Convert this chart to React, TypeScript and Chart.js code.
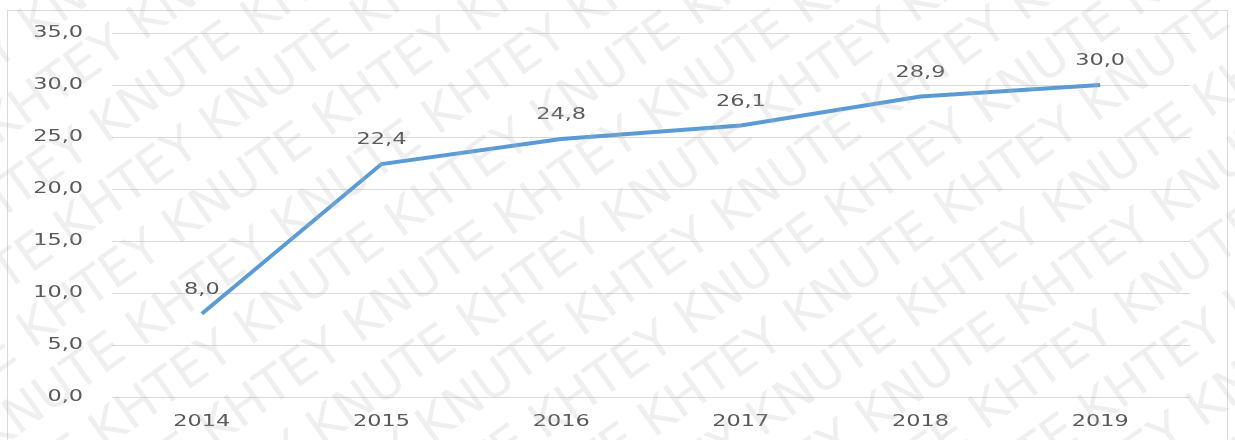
import React, { useEffect, useRef } from "react";
import { Chart, registerables } from "chart.js";

Chart.register(...registerables);

const categories = ["2014", "2015", "2016", "2017", "2018", "2019"];
const values = [8.0, 22.4, 24.8, 26.1, 28.9, 30.0];
const yTicks = [0, 5, 10, 15, 20, 25, 30, 35];
const watermarkWords = ["KNUTE", "KHTEY"];

const fmt = (v: number) => v.toFixed(1).replace(".", ",");
const FONT = "'DejaVu Sans', Verdana, sans-serif";
const TEXT = "#595959";
const SIZE = 16;
const STRETCH = 1.4;

const framePlugin = {
  id: "frame",
  beforeDraw(chart: any) {
    const { ctx, width, height } = chart;
    if (!ctx.__patched) {
      const orig = ctx.fillText;
      ctx.fillText = function (text: string, x: number, y: number, maxW?: number) {
        if (this.__stretch) {
          this.save();
          this.translate(x, y);
          this.scale(STRETCH, 1);
          if (maxW !== undefined) orig.call(this, text, 0, 0, maxW / STRETCH);
          else orig.call(this, text, 0, 0);
          this.restore();
        } else if (maxW !== undefined) orig.call(this, text, x, y, maxW);
        else orig.call(this, text, x, y);
      };
      ctx.__patched = true;
    }
    ctx.__stretch = true;
    ctx.save();
    ctx.fillStyle = "#ffffff";
    ctx.fillRect(0, 0, width, height);
    ctx.strokeStyle = "#d9d9d9";
    ctx.lineWidth = 1;
    ctx.strokeRect(7.5, 10.5, width - 15, height + 10);
    ctx.restore();
  },
  afterDraw(chart: any) {
    const { ctx, width, height } = chart;
    ctx.__stretch = false;
    ctx.save();
    ctx.font = `50px ${FONT}`;
    ctx.fillStyle = "rgba(180,180,180,0.22)";
    ctx.textBaseline = "middle";
    ctx.translate(width / 2, height / 2);
    ctx.rotate(-0.62);
    const line = (watermarkWords.join(" ") + " ").repeat(6);
    for (let r = -12; r <= 12; r++) {
      const shift = r % 2 === 0 ? 0 : 90;
      ctx.fillText(line, -1100 + shift, r * 62);
    }
    ctx.restore();
  },
};

const labelPlugin = {
  id: "pointLabels",
  afterDatasetsDraw(chart: any) {
    const { ctx } = chart;
    const meta = chart.getDatasetMeta(0);
    ctx.save();
    ctx.font = `${SIZE}px ${FONT}`;
    ctx.fillStyle = TEXT;
    ctx.textAlign = "center";
    ctx.textBaseline = "middle";
    meta.data.forEach((pt: any, i: number) => {
      ctx.fillText(fmt(values[i]), pt.x, pt.y - 24);
    });
    ctx.restore();
  },
};

export default function App() {
  const ref = useRef<HTMLCanvasElement | null>(null);
  useEffect(() => {
    document.body.style.margin = "0";
    if (!ref.current) return;
    const chart = new Chart(ref.current, {
      type: "line",
      data: {
        labels: categories,
        datasets: [
          {
            data: values,
            borderColor: "#5B9BD5",
            borderWidth: 4,
            pointRadius: 0,
            tension: 0,
            fill: false,
          },
        ],
      },
      options: {
        animation: false,
        responsive: false,
        layout: { padding: { top: 33, right: 45, left: 0, bottom: 0 } },
        plugins: { legend: { display: false }, tooltip: { enabled: false } },
        scales: {
          x: {
            offset: true,
            grid: { display: false, drawTicks: false },
            border: { display: false },
            ticks: { color: TEXT, font: { family: FONT, size: SIZE }, padding: 15 },
            afterFit(scale: any) {
              scale.height = 43;
            },
          },
          y: {
            min: 0,
            max: 35,
            afterBuildTicks(scale: any) {
              scale.ticks = yTicks.map((v) => ({ value: v }));
            },
            grid: { color: "#d9d9d9", lineWidth: 1, drawTicks: false },
            border: { display: false },
            ticks: {
              color: TEXT,
              font: { family: FONT, size: SIZE },
              padding: 29,
              callback: (v: any) => fmt(Number(v)),
            },
            afterFit(scale: any) {
              scale.width = 112;
              scale.paddingTop = 0;
              scale.paddingBottom = 0;
            },
          },
        },
      },
      plugins: [framePlugin, labelPlugin],
    });
    return () => chart.destroy();
  }, []);
  return (
    <div style={{ width: 1235, height: 440 }}>
      <canvas ref={ref} width={1235} height={440} style={{ display: "block" }} />
    </div>
  );
}
